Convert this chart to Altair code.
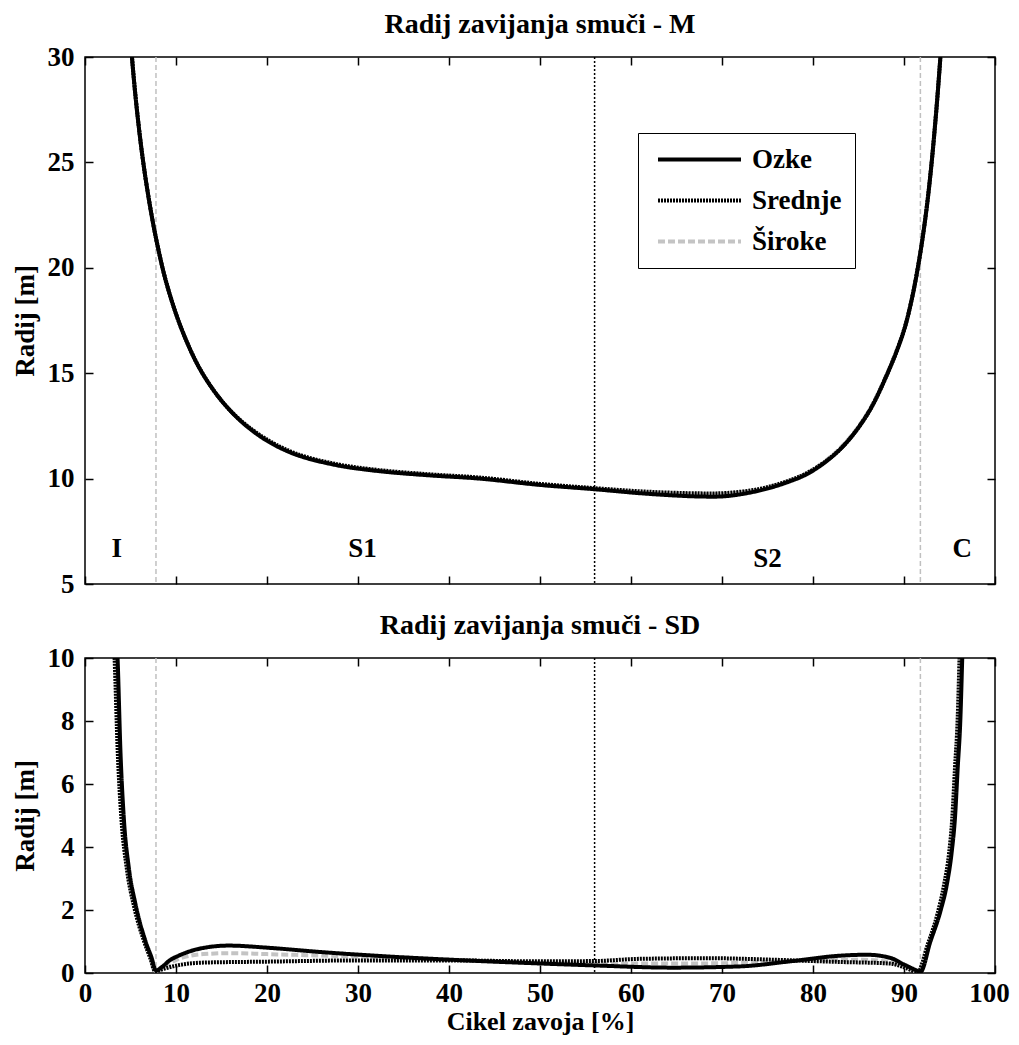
import altair as alt
import pandas as pd

SERIES = ["Ozke", "Srednje", "Široke"]
COLORS = ["#000000", "#000000", "#c4c4c4"]
DASHES = [[1, 0], [2, 1], [7, 3]]
WIDTHS = [4, 4, 3]

# ---- Panel M (mean turning radius) ----
M_ozke_x = [4.6, 5.16, 6.1, 7.0, 7.9, 9.0, 10.7, 12.9, 15.8, 19.1, 22.8, 27.5, 32.4, 38.0, 43.4, 50.0, 55.9,
            61.8, 67.6, 70.5, 74.0, 77.0, 79.7, 83.0, 85.9, 88.1, 89.9, 90.8, 91.6, 92.3, 92.9, 93.5, 94.0, 94.4]
M_ozke_y = [34.2, 30.0, 26.0, 23.3, 21.2, 19.2, 17.0, 15.0, 13.3, 12.05, 11.2, 10.65, 10.35, 10.15, 10.0, 9.7, 9.5,
            9.28, 9.15, 9.17, 9.42, 9.8, 10.3, 11.4, 13.0, 14.9, 16.9, 18.4, 20.2, 22.2, 24.4, 27.2, 30.0, 32.6]
M_srednje_x = M_ozke_x
M_srednje_y = [34.2, 30.0, 26.0, 23.3, 21.2, 19.2, 17.0, 15.0, 13.3, 12.1, 11.25, 10.7, 10.4, 10.2, 10.05, 9.75, 9.55,
               9.38, 9.3, 9.32, 9.5, 9.85, 10.35, 11.4, 13.0, 14.9, 16.9, 18.4, 20.2, 22.2, 24.4, 27.2, 30.0, 32.6]
M_siroke_x = M_ozke_x
M_siroke_y = [34.2, 30.0, 26.0, 23.3, 21.2, 19.2, 17.0, 15.0, 13.3, 12.05, 11.2, 10.65, 10.35, 10.15, 10.0, 9.7, 9.5,
              9.33, 9.25, 9.27, 9.47, 9.85, 10.35, 11.45, 13.05, 14.95, 16.95, 18.45, 20.25, 22.25, 24.5, 27.3, 30.0, 32.6]

# ---- Panel SD ----
SD_ozke_x = [3.2, 3.58, 3.9, 4.27, 4.82, 5.56, 6.66, 7.3, 7.8, 8.5, 9.3, 10.3, 12.9, 15.8, 20.2, 25.7, 33.0,
             40.3, 50.2, 56.0, 64.6, 72.0, 77.5, 83.0, 85.9, 88.5, 90.0, 91.4, 91.8, 92.9, 94.0, 94.7, 95.25,
             95.6, 95.9, 96.2, 96.4, 96.6]
SD_ozke_y = [12.0, 10.0, 7.0, 4.9, 3.33, 2.17, 1.0, 0.5, 0.08, 0.2, 0.4, 0.55, 0.79, 0.87, 0.8, 0.67, 0.53,
             0.42, 0.3, 0.24, 0.17, 0.21, 0.37, 0.55, 0.58, 0.48, 0.27, 0.08, 0.03, 1.0, 1.96, 2.8, 3.86,
             4.92, 6.5, 8.1, 10.0, 12.0]
SD_srednje_x = [2.9, 3.25, 3.6, 4.0, 4.6, 5.4, 6.5, 7.2, 7.7, 8.5, 10.3, 13.0, 20.0, 30.0, 40.0, 50.0, 56.0,
                61.0, 68.5, 75.8, 83.0, 88.5, 90.3, 91.5, 92.6, 93.7, 94.4, 94.95, 95.3, 95.6, 95.9, 96.1, 96.3]
SD_srednje_y = [12.0, 10.0, 7.0, 4.9, 3.3, 2.1, 1.0, 0.45, 0.05, 0.12, 0.25, 0.33, 0.36, 0.4, 0.4, 0.37, 0.38,
                0.45, 0.47, 0.42, 0.35, 0.3, 0.15, 0.03, 0.9, 1.9, 2.8, 3.8, 4.9, 6.5, 8.1, 10.0, 12.0]
SD_siroke_x = [3.1, 3.45, 3.8, 4.15, 4.7, 5.5, 6.6, 7.25, 7.75, 8.5, 10.3, 13.0, 16.0, 20.0, 30.0, 40.0, 50.0,
               56.0, 65.0, 72.0, 80.0, 85.0, 88.5, 90.2, 91.6, 92.8, 93.9, 94.6, 95.15, 95.5, 95.8, 96.1, 96.3, 96.5]
SD_siroke_y = [12.0, 10.0, 7.0, 4.9, 3.3, 2.15, 1.0, 0.48, 0.06, 0.18, 0.45, 0.6, 0.63, 0.6, 0.52, 0.42, 0.33,
               0.3, 0.3, 0.32, 0.4, 0.42, 0.35, 0.18, 0.04, 0.95, 1.9, 2.8, 3.85, 4.9, 6.5, 8.1, 10.0, 12.0]

# phase boundaries
phase_gray_x = [7.8, 91.8]
phase_black_x = [56.0]

# phase labels (top panel)
phase_label_text = ["I", "S1", "S2", "C"]
phase_label_x = [3.5, 30.5, 75.0, 96.4]
phase_label_y = [6.65, 6.65, 6.2, 6.65]

X_TICKS = list(range(0, 101, 10))
M_TICKS = [5, 10, 15, 20, 25, 30]
SD_TICKS = [0, 2, 4, 6, 8, 10]

FONT = "Liberation Serif"


def series_df(xs, ys):
    rows = []
    for name, x, y in zip(SERIES, xs, ys):
        for a, b in zip(x, y):
            rows.append({"serija": name, "x": a, "y": b})
    return pd.DataFrame(rows)


m_df = series_df([M_ozke_x, M_srednje_x, M_siroke_x], [M_ozke_y, M_srednje_y, M_siroke_y])
sd_df = series_df([SD_ozke_x, SD_srednje_x, SD_siroke_x], [SD_ozke_y, SD_srednje_y, SD_siroke_y])
gray_df = pd.DataFrame({"x": phase_gray_x})
black_df = pd.DataFrame({"x": phase_black_x})
lab_df = pd.DataFrame({"t": phase_label_text, "x": phase_label_x, "y": phase_label_y})

W = 910


def build(use_cond):
    def panel(df, ydom, yticks, title, h, show_xlabels, show_legend, interp, labels=None):
        xs = alt.Scale(domain=[0, 100], nice=False, zero=False)
        ys = alt.Scale(domain=ydom, nice=False, zero=False)
        xkw = dict(values=X_TICKS, labels=show_xlabels, title="Cikel zavoja [%]" if show_xlabels else None,
                   orient="bottom", offset=-8, tickSize=8, domain=False, labelPadding=7, titlePadding=2,
                   format="d", grid=False, labelFlush=False, titleFontSize=26)
        if use_cond and show_xlabels:
            xkw["labelOffset"] = {"condition": {"test": "datum.value == 100", "value": -6}, "value": 0}
        xaxis = alt.Axis(**xkw)
        yaxis = alt.Axis(values=yticks, title="Radij [m]", orient="left", offset=-8, tickSize=8, domain=False,
                         labelPadding=11, titlePadding=8, format="d", grid=False, labelFlush=False)
        if show_legend:
            leg = alt.Legend(title=None, orient="none", legendX=553, legendY=76, symbolType="stroke",
                             symbolSize=6889, clipHeight=27, symbolOffset=5, labelOffset=9, padding=13,
                             rowPadding=13, strokeColor="black", fillColor="white", labelFont=FONT,
                             labelFontWeight="bold", labelFontSize=27, labelColor="black", labelLimit=300)
        else:
            leg = None
        sd = alt.Scale(domain=SERIES, range=DASHES)
        sc = alt.Scale(domain=SERIES, range=COLORS)
        sw = alt.Scale(domain=SERIES, range=WIDTHS)

        gray_rule = alt.Chart(gray_df).mark_rule(color="#c0c0c0", strokeWidth=1.5, strokeDash=[5, 3]).encode(
            x=alt.X("x:Q", scale=xs, axis=None))
        black_rule = alt.Chart(black_df).mark_rule(color="black", strokeWidth=1.5, strokeDash=[2, 2]).encode(
            x=alt.X("x:Q", scale=xs, axis=None))

        layers = [gray_rule, black_rule]
        for i, name in enumerate(reversed(SERIES)):
            first = (i == 0)
            layers.append(
                alt.Chart(df).transform_filter(alt.datum.serija == name).mark_line(
                    clip=True, interpolate=interp).encode(
                    x=alt.X("x:Q", scale=xs, axis=xaxis if first else None),
                    y=alt.Y("y:Q", scale=ys, axis=yaxis if first else None),
                    color=alt.Color("serija:N", scale=sc, legend=leg),
                    strokeDash=alt.StrokeDash("serija:N", scale=sd, legend=leg),
                    strokeWidth=alt.StrokeWidth("serija:N", scale=sw, legend=leg),
                    order=alt.Order("x:Q"),
                )
            )
        if labels is not None:
            layers.append(alt.Chart(labels).mark_text(font=FONT, fontWeight="bold", fontSize=27,
                                                      color="black").encode(
                x=alt.X("x:Q", scale=xs, axis=None), y=alt.Y("y:Q", scale=ys, axis=None), text="t:N"))
        # ghost layer for inward ticks on top and right
        ghost = alt.Chart(df).mark_line(opacity=0, clip=True).encode(
            x=alt.X("x:Q", scale=xs, axis=alt.Axis(values=X_TICKS, labels=False, title=None, orient="top",
                                                   offset=-8, tickSize=8, domain=False, grid=False)),
            y=alt.Y("y:Q", scale=ys, axis=alt.Axis(values=yticks, labels=False, title=None, orient="right",
                                                   offset=-8, tickSize=8, domain=False, grid=False)),
            detail="serija:N",
        )
        layers.append(ghost)
        return alt.layer(*layers).resolve_axis(x="independent", y="independent").properties(
            width=W, height=h,
            title=alt.TitleParams(title, font=FONT, fontSize=28, fontWeight="bold", color="black", offset=4,
                                  anchor="middle"),
        )

    top = panel(m_df, [5, 30], M_TICKS, "Radij zavijanja smuči - M", 527, False, True, "catmull-rom", lab_df)
    bottom = panel(sd_df, [0, 10], SD_TICKS, "Radij zavijanja smuči - SD", 315, True, False, "monotone")

    return alt.vconcat(top, bottom, spacing=13).resolve_legend(
        color="independent", strokeDash="independent", strokeWidth="independent"
    ).properties(
        padding={"left": 2, "top": 2, "right": 0, "bottom": 0}, background="white"
    ).configure_view(
        stroke="black", strokeWidth=1.5
    ).configure_axis(
        labelFont=FONT, labelFontWeight="bold", labelFontSize=27, labelColor="black",
        titleFont=FONT, titleFontWeight="bold", titleFontSize=27, titleColor="black",
        tickColor="black", tickWidth=1.5, grid=False,
    )


try:
    chart = build(True)
    chart.to_dict()
except Exception:
    chart = build(False)

chart.save("out.html", embed_options={"renderer": "svg", "actions": False})
